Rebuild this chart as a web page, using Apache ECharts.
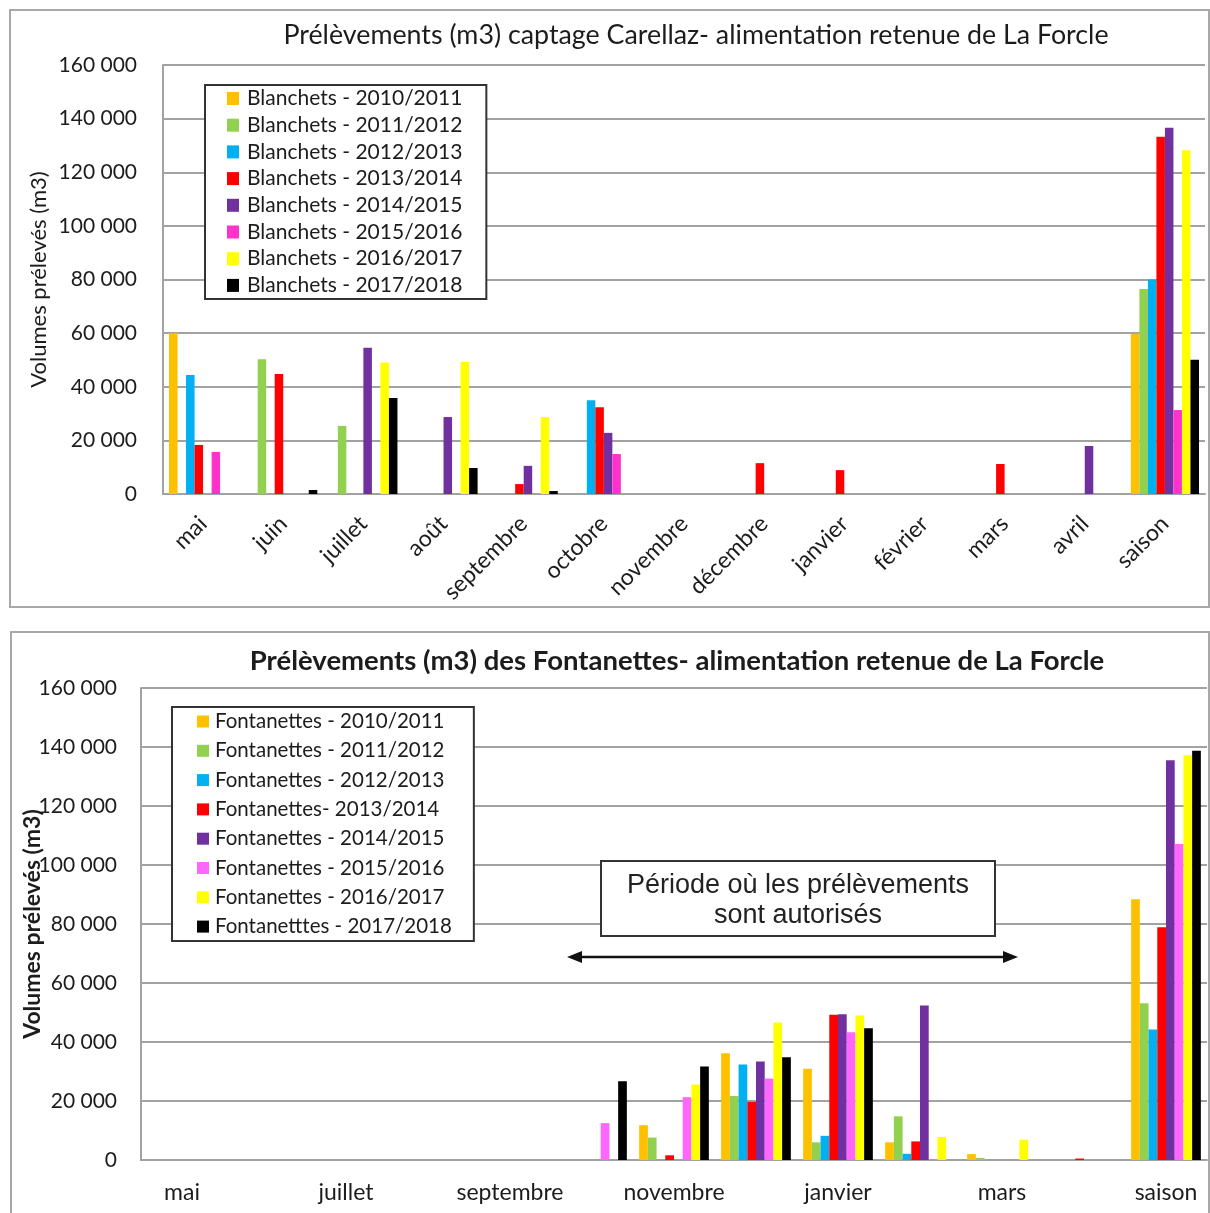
<!DOCTYPE html>
<html>
<head>
<meta charset="utf-8">
<script src="https://cdn.jsdelivr.net/npm/echarts@6/dist/echarts.min.js"></script>
<style>
  html, body { margin: 0; padding: 0; background: #fff; }
  #chart { width: 1210px; height: 1213px; }
</style>
</head>
<body>
<div id="chart"></div>
<script>
// Months of the season (May to April) plus the season total
const months = ['mai', 'juin', 'juillet', 'août', 'septembre', 'octobre', 'novembre',
  'décembre', 'janvier', 'février', 'mars', 'avril', 'saison'];

// Y-axis ticks (m3)
const yTicks = [0, 20000, 40000, 60000, 80000, 100000, 120000, 140000, 160000];

// Captage Carellaz (Blanchets), m3 per month
const blanchetsNames = ['Blanchets - 2010/2011', 'Blanchets - 2011/2012', 'Blanchets - 2012/2013',
  'Blanchets - 2013/2014', 'Blanchets - 2014/2015', 'Blanchets - 2015/2016',
  'Blanchets - 2016/2017', 'Blanchets - 2017/2018'];
const blanchets2010 = [60000, null, null, null, null, null, null, null, null, null, null, null, 59800];
const blanchets2011 = [null, 50300, 25400, null, null, null, null, null, null, null, null, null, 76500];
const blanchets2012 = [44400, null, null, null, null, 35000, null, null, null, null, null, null, 80000];
const blanchets2013 = [18300, 44800, null, null, 3700, 32400, null, 11500, 8900, null, 11200, null, 133200];
const blanchets2014 = [null, null, 54500, 28700, 10500, 22800, null, null, null, null, null, 17900, 136600];
const blanchets2015 = [15700, null, null, null, null, 14900, null, null, null, null, null, null, 31300];
const blanchets2016 = [null, null, 49000, 49200, 28700, null, null, null, null, null, null, null, 128200];
const blanchets2017 = [null, 1500, 35800, 9700, 1100, null, null, null, null, null, null, null, 50100];

// Fontanettes, m3 per month
const fontanettesNames = ['Fontanettes - 2010/2011', 'Fontanettes - 2011/2012', 'Fontanettes - 2012/2013',
  'Fontanettes- 2013/2014', 'Fontanettes - 2014/2015', 'Fontanettes - 2015/2016',
  'Fontanettes - 2016/2017', 'Fontanetttes - 2017/2018'];
const fontanettes2010 = [null, null, null, null, null, null, 11800, 36200, 30900, 6000, 2000, null, 88400];
const fontanettes2011 = [null, null, null, null, null, null, 7600, 21700, 6000, 14800, 700, null, 53100];
const fontanettes2012 = [null, null, null, null, null, null, null, 32400, 8200, 2100, null, null, 44200];
const fontanettes2013 = [null, null, null, null, null, null, 1600, 19700, 49200, 6300, null, 500, 78900];
const fontanettes2014 = [null, null, null, null, null, null, null, 33400, 49400, 52400, null, null, 135500];
const fontanettes2015 = [null, null, null, null, null, 12500, 21300, 27600, 43300, 300, null, null, 107100];
const fontanettes2016 = [null, null, null, null, null, null, 25600, 46600, 49000, 7800, 6900, null, 137200];
const fontanettes2017 = [null, null, null, null, null, 26700, 31700, 34800, 44700, null, null, null, 138700];

const blanchetsColors = ['#FFC000', '#92D050', '#00B0F0', '#FF0000', '#7030A0', '#FF33CC', '#FFFF00', '#000000'];
const fontanettesColors = ['#FFC000', '#92D050', '#00B0F0', '#FF0000', '#7030A0', '#FF66FF', '#FFFF00', '#000000'];

const blanchetsData = [blanchets2010, blanchets2011, blanchets2012, blanchets2013,
  blanchets2014, blanchets2015, blanchets2016, blanchets2017];
const fontanettesData = [fontanettes2010, fontanettes2011, fontanettes2012, fontanettes2013,
  fontanettes2014, fontanettes2015, fontanettes2016, fontanettes2017];

const FONT = 'Lato';
const TEXT = '#1c1c1c';
const GRID_GREY = '#a2a2a2';

function thousands(v) {
  return String(v).replace(/\B(?=(\d{3})+(?!\d))/g, ' ');
}

function barSeries(names, data, colors, axisIndex) {
  return names.map((name, i) => ({
    name: name,
    type: 'bar',
    xAxisIndex: axisIndex,
    yAxisIndex: axisIndex,
    data: data[i],
    barGap: '0%',
    barCategoryGap: '15%',
    itemStyle: { color: colors[i] },
    z: 3
  }));
}

function valueAxis(gridIndex, extra) {
  return Object.assign({
    type: 'value',
    gridIndex: gridIndex,
    min: yTicks[0],
    max: yTicks[yTicks.length - 1],
    interval: yTicks[1] - yTicks[0],
    nameLocation: 'middle',
    nameMoveOverlap: false,
    axisLine: { show: true, lineStyle: { color: GRID_GREY, width: 2 } },
    axisTick: { show: false },
    splitLine: { show: true, lineStyle: { color: GRID_GREY, width: 2 } }
  }, extra);
}

const chart = echarts.init(document.getElementById('chart'), null, { renderer: 'canvas' });

chart.setOption({
  animation: false,
  backgroundColor: '#fff',
  title: [
    {
      text: 'Prélèvements (m3) captage Carellaz- alimentation retenue de La Forcle',
      left: 691, top: 17, textAlign: 'center',
      textStyle: { fontFamily: FONT, fontSize: 26.8, fontWeight: 'normal', color: TEXT }
    },
    {
      text: 'Prélèvements (m3) des Fontanettes- alimentation retenue de La Forcle',
      left: 672, top: 642, textAlign: 'center',
      textStyle: { fontFamily: FONT, fontSize: 27.5, fontWeight: 'bold', color: TEXT }
    }
  ],
  legend: [
    {
      data: blanchetsNames,
      orient: 'vertical',
      left: 205, top: 85,
      itemWidth: 12, itemHeight: 13,
      itemGap: 5.7,
      icon: 'rect',
      padding: [3, 24, 3, 22],
      backgroundColor: '#fff',
      borderColor: '#333', borderWidth: 2,
      selectedMode: false,
      textStyle: { fontFamily: FONT, fontSize: 21, color: TEXT, lineHeight: 21, padding: [0, 0, 0, 3] },
      z: 10
    },
    {
      data: fontanettesNames,
      orient: 'vertical',
      left: 172, top: 707,
      itemWidth: 12, itemHeight: 12,
      itemGap: 8.3,
      icon: 'rect',
      padding: [4, 22, 4, 25],
      backgroundColor: '#fff',
      borderColor: '#333', borderWidth: 2,
      selectedMode: false,
      textStyle: { fontFamily: FONT, fontSize: 20.5, color: TEXT, lineHeight: 21, padding: [0, 0, 0, 1] },
      z: 10
    }
  ],
  grid: [
    { left: 163, top: 65, right: 5, bottom: 719, containLabel: false, outerBoundsMode: 'none' },
    { left: 141, top: 688, right: 3, bottom: 53, containLabel: false, outerBoundsMode: 'none' }
  ],
  xAxis: [
    {
      type: 'category', gridIndex: 0, data: months,
      axisLine: { lineStyle: { color: GRID_GREY, width: 2 } },
      axisTick: { show: false },
      axisLabel: { interval: 0, rotate: 45, margin: 26, color: TEXT, fontFamily: FONT, fontSize: 23 }
    },
    {
      type: 'category', gridIndex: 1, data: months,
      axisLine: { lineStyle: { color: GRID_GREY, width: 2 } },
      axisTick: { show: false },
      axisLabel: { interval: 1, margin: 21, color: TEXT, fontFamily: FONT, fontSize: 23 }
    }
  ],
  yAxis: [
    valueAxis(0, {
      name: 'Volumes prélevés (m3)', nameGap: 113,
      nameTextStyle: { fontFamily: FONT, fontSize: 22, color: TEXT },
      axisLabel: { color: TEXT, fontFamily: FONT, fontSize: 21, margin: 26, formatter: thousands }
    }),
    valueAxis(1, {
      name: 'Volumes prélevés (m3)', nameGap: 97,
      nameTextStyle: { fontFamily: FONT, fontSize: 23, fontWeight: 'bold', color: TEXT },
      axisLabel: { color: TEXT, fontFamily: FONT, fontSize: 21, margin: 24, formatter: thousands }
    })
  ],
  series: barSeries(blanchetsNames, blanchetsData, blanchetsColors, 0)
    .concat(barSeries(fontanettesNames, fontanettesData, fontanettesColors, 1)),
  graphic: [
    // outer frames of both panels
    { type: 'rect', shape: { x: 10, y: 10, width: 1199, height: 597 },
      style: { fill: 'none', stroke: '#a8a8a8', lineWidth: 2 }, z: 0, silent: true },
    { type: 'rect', shape: { x: 11, y: 632, width: 1198, height: 600 },
      style: { fill: 'none', stroke: '#a8a8a8', lineWidth: 2 }, z: 0, silent: true },
    // authorised-period note with its double arrow
    { type: 'rect', shape: { x: 601, y: 861, width: 394, height: 75 },
      style: { fill: '#fff', stroke: '#333', lineWidth: 2 }, z: 20, silent: true },
    { type: 'text', x: 798, y: 871, z: 21, silent: true,
      style: { text: 'Période où les prélèvements\nsont autorisés', fill: '#222',
        font: '27px "Liberation Sans"', align: 'center', verticalAlign: 'top', lineHeight: 30 } },
    { type: 'line', shape: { x1: 578, y1: 957, x2: 1007, y2: 957 },
      style: { stroke: '#111', lineWidth: 2.5 }, z: 20, silent: true },
    { type: 'polygon', shape: { points: [[567, 957], [582, 951], [582, 963]] },
      style: { fill: '#111' }, z: 20, silent: true },
    { type: 'polygon', shape: { points: [[1018, 957], [1003, 951], [1003, 963]] },
      style: { fill: '#111' }, z: 20, silent: true }
  ]
});
</script>
</body>
</html>
